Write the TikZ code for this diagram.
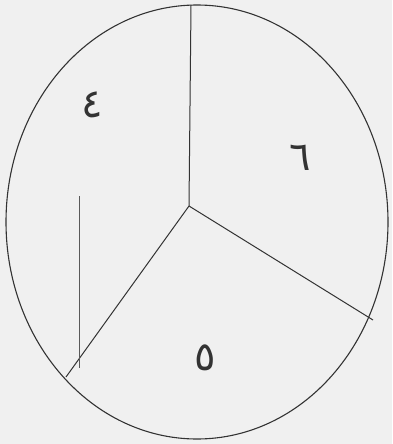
\documentclass[tikz,border=0pt]{standalone}
\usepackage{fontspec}
\newfontfamily\arabicfont[Script=Arabic]{DejaVu Sans}
\TeXXeTstate=1
\tikzset{
    rim/.style={draw=black!80, line width=1.1pt},
    spoke/.style={draw=black!80, line width=1.0pt},
    digit/.style={font=\arabicfont\fontsize{40}{44}\selectfont, text=black!80}
}
\begin{document}
\begin{tikzpicture}[x=1pt, y=-1pt]
        \fill[black!6] (0,0) rectangle (392,444);
        \useasboundingbox (0,0) rectangle (392,444);
        % outline
        \draw[rim] (197,222) ellipse [x radius=191, y radius=217];
        % spokes from the middle
        \coordinate (mid) at (189,206);
        \coordinate (top) at (191,5);
        \coordinate (right) at (373,320);
        \coordinate (left) at (66,377);
        \draw[spoke] (mid) -- (top);
        \draw[spoke] (mid) -- (right);
        \draw[spoke] (mid) -- (left);
        % loose stroke
        \coordinate (barup) at (79,196);
        \coordinate (bardown) at (79,368);
        \draw[spoke, draw=black!65] (barup) -- (bardown);
        % part numbers
        \node[digit] (four) at (92,105) {\beginR ٤\endR};
        \node[digit] (six) at (300,158) {\beginR ٦\endR};
        \node[digit] (five) at (205,358) {\beginR ٥\endR};
    \end{tikzpicture}
\end{document}
